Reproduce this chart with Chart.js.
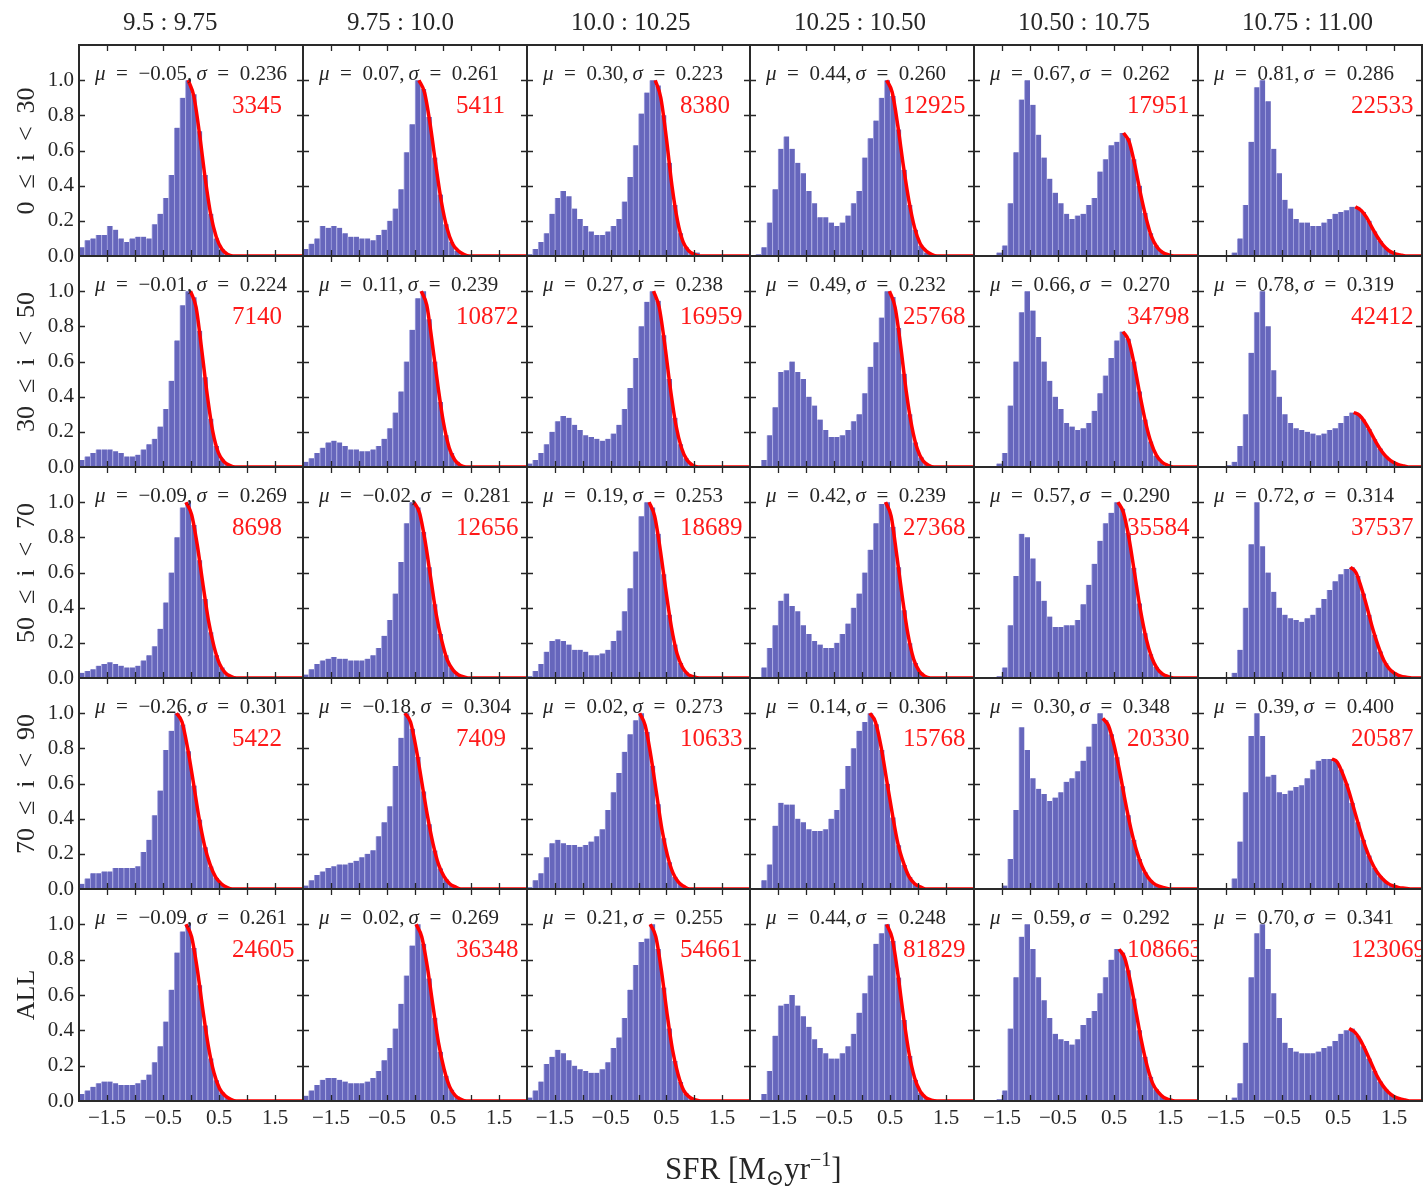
<!DOCTYPE html>
<html>
<head>
<meta charset="utf-8">
<script src="https://cdn.jsdelivr.net/npm/chart.js@4.4.1/dist/chart.umd.min.js"></script>
<style>
  html, body { margin: 0; padding: 0; background: #fff; }
  #fig { position: relative; width: 1424px; height: 1194px; overflow: hidden;
         font-family: 'Liberation Serif', 'DejaVu Serif', serif; color: #262626; }
  #fig canvas { position: absolute; }
  .coltitle { position: absolute; top: 9px; font-size: 25px; line-height: 1; white-space: nowrap; }
  .rowlabel { position: absolute; left: 26px; font-size: 26px; line-height: 1; white-space: nowrap;
              transform: translate(-50%, -50%) rotate(-90deg); }
  .xlabel { position: absolute; left: 665px; top: 1149px; font-size: 31px; line-height: 1; white-space: nowrap; }
  .xlabel sub { font-size: 22px; vertical-align: -6px; }
  .xlabel sup { font-size: 20px; vertical-align: 13px; }
</style>
</head>
<body>
<div id="fig"></div>
<script>
// 5 x 6 grid of normalised SFR histograms (rows: inclination, cols: stellar mass)

const SERIF = "'Liberation Serif', 'DejaVu Serif', serif";

const massBins = ['9.5 : 9.75', '9.75 : 10.0', '10.0 : 10.25', '10.25 : 10.50', '10.50 : 10.75', '10.75 : 11.00'];
const inclBins = ['0\u2002\u2264\u2002i\u2002<\u200230', '30\u2002\u2264\u2002i\u2002<\u200250',
                  '50\u2002\u2264\u2002i\u2002<\u200270', '70\u2002\u2264\u2002i\u2002<\u200290', 'ALL'];

const binCenters = [-1.95, -1.85, -1.75, -1.65, -1.55, -1.45, -1.35, -1.25, -1.15, -1.05,
                    -0.95, -0.85, -0.75, -0.65, -0.55, -0.45, -0.35, -0.25, -0.15, -0.05,
                     0.05,  0.15,  0.25,  0.35,  0.45,  0.55,  0.65,  0.75,  0.85,  0.95,
                     1.05,  1.15,  1.25,  1.35,  1.45,  1.55,  1.65,  1.75,  1.85,  1.95];

const xTickMarks = [-1.5, -1, -0.5, 0, 0.5, 1, 1.5];
const xTickLabels = [-1.5, -0.5, 0.5, 1.5];
const yTickMarks = [0.2, 0.4, 0.6, 0.8, 1.0];

// histogram heights (peak-normalised), one array of 40 bins per mass column
const histIncl0to30 = [
  [.05,.09,.10,.12,.12,.17,.15,.10,.08,.10, .11,.11,.10,.18,.24,.33,.46,.73,.90,1.00, .92,.71,.46,.24,.10,.04,.01,.005,0,0, 0,0,0,0,0,0,0,0,0,0],
  [.04,.07,.10,.17,.16,.17,.16,.13,.11,.11, .10,.10,.09,.12,.15,.20,.27,.38,.59,.75, 1.00,.95,.79,.56,.35,.18,.08,.03,.01,.005, 0,0,0,0,0,0,0,0,0,0],
  [.01,.04,.08,.13,.24,.33,.37,.34,.27,.21, .17,.14,.12,.12,.14,.17,.21,.31,.45,.63, .81,.93,1.00,.97,.80,.53,.29,.13,.05,.015, .02,0,0,0,0,0,0,0,0,0],
  [0,.01,.05,.19,.38,.61,.68,.61,.53,.47, .37,.30,.22,.22,.19,.17,.19,.23,.30,.37, .56,.67,.77,.90,1.00,.91,.72,.49,.29,.15, .06,.02,.01,0,0,0,0,0,0,0],
  [0,0,0,.005,.02,.06,.30,.59,.89,1.00, .86,.69,.56,.44,.36,.30,.24,.21,.23,.24, .29,.33,.48,.55,.63,.65,.70,.67,.55,.40, .245,.13,.06,.024,.008,0,0,0,0,0],
  [0,0,0,0,0,.005,.02,.10,.29,.65, .96,1.00,.88,.61,.47,.32,.27,.21,.19,.19, .17,.17,.19,.21,.24,.25,.26,.28,.28,.25, .20,.14,.086,.047,.023,.01,.004,0,0,0],
];
const histIncl30to50 = [
  [.04,.06,.08,.10,.10,.10,.09,.08,.06,.06, .07,.10,.13,.16,.23,.33,.49,.72,.92,1.00, .965,.775,.51,.275,.12,.044,.013,.003,0,0, 0,0,0,0,0,0,0,0,0,0],
  [.03,.05,.08,.11,.14,.15,.14,.12,.10,.10, .09,.09,.10,.12,.16,.22,.31,.43,.60,.78, .96,1.00,.84,.60,.37,.18,.08,.03,.008,.002, 0,0,0,0,0,0,0,0,0,0],
  [.02,.04,.08,.13,.20,.26,.29,.28,.24,.21, .18,.17,.16,.15,.16,.19,.24,.33,.45,.62, .80,.94,1.00,.945,.75,.50,.28,.13,.05,.017, .005,0,0,0,0,0,0,0,0,0],
  [0,.005,.04,.18,.34,.54,.55,.60,.54,.50, .40,.35,.27,.21,.17,.17,.18,.21,.26,.30, .42,.57,.71,.85,1.00,.967,.79,.53,.30,.14, .055,.0175,.005,0,0,0,0,0,0,0],
  [0,0,0,0,.02,.08,.35,.60,.88,1.00, .89,.74,.60,.49,.40,.33,.25,.23,.21,.22, .25,.32,.42,.52,.62,.72,.77,.73,.60,.43, .27,.145,.065,.029,.011,.004,0,0,0,0],
  [0,0,0,0,0,.01,.03,.12,.30,.65, .88,1.00,.80,.55,.40,.30,.25,.22,.21,.20, .19,.18,.19,.21,.22,.25,.29,.31,.30,.27, .216,.158,.105,.063,.034,.017,.007,.003,0,0],
];
const histIncl50to70 = [
  [.03,.04,.05,.07,.08,.09,.08,.07,.06,.06, .07,.10,.13,.18,.28,.43,.60,.80,.97,1.00, .87,.67,.45,.26,.13,.06,.023,.008,.002,0, 0,0,0,0,0,0,0,0,0,0],
  [.02,.05,.08,.10,.11,.12,.11,.11,.10,.10, .10,.11,.13,.17,.24,.33,.48,.66,.88,1.00, .97,.83,.63,.42,.25,.13,.058,.023,.008,.002, 0,0,0,0,0,0,0,0,0,0],
  [.01,.04,.08,.15,.21,.22,.21,.19,.16,.16, .15,.13,.13,.14,.16,.21,.27,.38,.51,.72, .92,1.00,.97,.82,.59,.36,.19,.086,.033,.011, .003,0,0,0,0,0,0,0,0,0],
  [0,.005,.06,.17,.30,.44,.48,.41,.38,.30, .25,.21,.19,.17,.17,.20,.25,.31,.40,.48, .60,.73,.88,.99,1.00,.86,.63,.385,.198,.086, .031,.0095,.0024,0,0,0,0,0,0,0],
  [0,0,0,0,.01,.06,.30,.58,.82,.80, .68,.55,.44,.35,.29,.29,.30,.30,.33,.42, .53,.65,.78,.88,.94,1.00,.963,.825,.627,.424, .254,.135,.064,.027,.01,.003,0,0,0,0],
  [0,0,0,0,0,.005,.03,.16,.40,.76, 1.00,.75,.60,.49,.40,.36,.34,.33,.32,.34, .36,.40,.45,.50,.55,.59,.62,.63,.58,.48, .36,.246,.151,.084,.042,.019,.008,.003,0,0],
];
const histIncl70to90 = [
  [.03,.06,.09,.09,.10,.10,.12,.12,.12,.12, .13,.21,.28,.42,.56,.79,.90,1.00,.935,.784, .588,.395,.238,.128,.062,.027,.010,.0035,0,0, 0,0,0,0,0,0,0,0,0,0],
  [.02,.05,.08,.10,.12,.13,.14,.14,.15,.16, .18,.20,.22,.30,.38,.47,.70,.86,1.00,.912, .751,.555,.368,.219,.117,.056,.024,.0093,.003,0, 0,0,0,0,0,0,0,0,0,0],
  [.01,.05,.09,.18,.26,.28,.26,.25,.25,.24, .25,.27,.30,.34,.45,.55,.66,.78,.88,.96, 1.00,.893,.701,.482,.289,.152,.069,.028,.0098,.003, 0,0,0,0,0,0,0,0,0,0],
  [0,.005,.05,.14,.36,.49,.48,.48,.40,.38, .34,.33,.33,.34,.40,.45,.57,.70,.80,.90, .95,1.00,.937,.79,.598,.407,.249,.137,.068,.030, .012,.0043,0,0,0,0,0,0,0,0],
  [0,0,0,0,0,.02,.17,.45,.92,.79, .63,.57,.54,.50,.52,.55,.61,.63,.67,.73, .81,.94,1.00,.96,.88,.75,.585,.42,.28,.17, .095,.049,.024,.01,.004,0,0,0,0,0],
  [0,0,0,0,0,0,.06,.27,.55,.87, 1.00,.87,.64,.65,.55,.54,.56,.58,.59,.63, .68,.73,.74,.74,.73,.68,.60,.49,.38,.28, .19,.12,.073,.042,.022,.011,.005,.002,0,0],
];
const histAll = [
  [.04,.06,.08,.10,.11,.11,.10,.09,.09,.09, .10,.12,.15,.22,.31,.45,.63,.84,.96,1.00, .866,.655,.428,.241,.118,.049,.018,.0056,.0015,0, 0,0,0,0,0,0,0,0,0,0],
  [.03,.06,.09,.12,.13,.13,.12,.11,.10,.10, .10,.11,.13,.17,.23,.30,.41,.55,.71,.88, 1.00,.89,.694,.471,.279,.143,.064,.025,.0086,.0025, 0,0,0,0,0,0,0,0,0,0],
  [.02,.06,.11,.21,.25,.29,.27,.23,.20,.18, .17,.16,.16,.18,.22,.30,.36,.47,.63,.77, .90,.92,1.00,.86,.642,.411,.226,.107,.043,.015, .0044,0,0,0,0,0,0,0,0,0],
  [0,.005,.04,.17,.37,.54,.55,.60,.54,.48, .42,.35,.30,.27,.24,.24,.27,.31,.38,.50, .61,.71,.89,.95,1.00,.906,.699,.458,.255,.12, .048,.0165,.005,0,0,0,0,0,0,0],
  [0,0,0,0,.01,.06,.41,.70,.93,1.00, .86,.70,.57,.47,.38,.35,.34,.32,.35,.43, .47,.51,.61,.70,.80,.86,.84,.74,.58,.40, .25,.137,.067,.029,.011,.004,0,0,0,0],
  [0,0,0,0,0,.005,.02,.10,.33,.70, .95,1.00,.86,.61,.47,.33,.30,.28,.27,.27, .27,.28,.30,.31,.34,.38,.40,.41,.37,.31, .24,.17,.11,.066,.036,.018,.009,.004,0,0],
];

// red fit curve: heights read every FIT_STEP in SFR, starting at mu
const FIT_STEP = 0.1;
const fitIncl0to30 = [
  [1,.91,.70,.45,.24,.11,.04,.01,0],
  [1,.93,.75,.52,.31,.16,.07,.03,.01,0],
  [1,.90,.67,.40,.20,.08,.03,.01,0],
  [1,.93,.74,.51,.31,.16,.07,.03,.01,0],
  [.70,.65,.52,.36,.22,.11,.05,.02,.007,0],
  [.28,.26,.22,.16,.105,.06,.03,.014,.006,0],
];
const fitIncl30to50 = [
  [1,.91,.67,.41,.20,.08,.03,.01,0],
  [1,.92,.70,.46,.25,.11,.04,.01,0],
  [1,.91,.70,.45,.24,.11,.04,.01,0],
  [1,.91,.69,.43,.23,.10,.035,.01,0],
  [.77,.72,.585,.415,.26,.14,.065,.027,.01,0],
  [.31,.295,.255,.20,.14,.09,.053,.028,.013,.006,0],
];
const fitIncl50to70 = [
  [1,.93,.76,.54,.33,.18,.08,.03,.01,0],
  [1,.94,.78,.57,.36,.21,.10,.045,.017,.006,0],
  [1,.92,.73,.50,.29,.14,.06,.02,.007,0],
  [1,.92,.70,.46,.25,.11,.04,.01,0],
  [1,.94,.79,.59,.39,.23,.12,.054,.022,.008,0],
  [.63,.60,.51,.40,.28,.18,.10,.05,.025,.01,.004,0],
];
const fitIncl70to90 = [
  [1,.95,.80,.61,.41,.25,.14,.067,.03,.01,0],
  [1,.95,.80,.61,.42,.26,.14,.07,.03,.012,0],
  [1,.93,.76,.55,.34,.19,.09,.037,.014,0],
  [1,.95,.81,.62,.43,.26,.15,.07,.03,.013,0],
  [.97,.93,.82,.67,.50,.345,.22,.13,.07,.034,.016,.007,0],
  [.74,.72,.65,.56,.45,.34,.24,.16,.10,.06,.032,.017,.008,.004,0],
];
const fitAll = [
  [1,.93,.75,.52,.31,.16,.07,.03,.01,0],
  [1,.93,.76,.54,.33,.18,.08,.03,.01,0],
  [1,.93,.74,.50,.29,.15,.06,.023,.007,0],
  [1,.92,.72,.48,.27,.13,.054,.019,.005,0],
  [.86,.81,.68,.51,.34,.20,.10,.05,.02,.0075,0],
  [.41,.39,.345,.28,.21,.14,.087,.05,.026,.013,.006,0],
];

const fitMu = [
  [-0.05, 0.07, 0.30, 0.44, 0.67, 0.81],
  [-0.01, 0.11, 0.27, 0.49, 0.66, 0.78],
  [-0.09, -0.02, 0.19, 0.42, 0.57, 0.72],
  [-0.26, -0.18, 0.02, 0.14, 0.30, 0.39],
  [-0.09, 0.02, 0.21, 0.44, 0.59, 0.70],
];
const fitSigma = [
  [0.236, 0.261, 0.223, 0.260, 0.262, 0.286],
  [0.224, 0.239, 0.238, 0.232, 0.270, 0.319],
  [0.269, 0.281, 0.253, 0.239, 0.290, 0.314],
  [0.301, 0.304, 0.273, 0.306, 0.348, 0.400],
  [0.261, 0.269, 0.255, 0.248, 0.292, 0.341],
];
const galaxyCounts = [
  [3345, 5411, 8380, 12925, 17951, 22533],
  [7140, 10872, 16959, 25768, 34798, 42412],
  [8698, 12656, 18689, 27368, 35584, 37537],
  [5422, 7409, 10633, 15768, 20330, 20587],
  [24605, 36348, 54661, 81829, 108663, 123069],
];

const histRows = [histIncl0to30, histIncl30to50, histIncl50to70, histIncl70to90, histAll];
const fitRows = [fitIncl0to30, fitIncl30to50, fitIncl50to70, fitIncl70to90, fitAll];

// --- layout ---
const GRID_LEFT = 79, GRID_TOP = 45, PANEL_W = 223.8, PANEL_H = 211.1;
const Y_LABEL_W = 60, X_LABEL_H = 40, EDGE = 16;
const ROWS = 5, COLS = 6;

const fig = document.getElementById('fig');

const minus = v => (v < 0 ? '\u2212' : '') + Math.abs(v);
const fmtSigned = (v, d) => (v < 0 ? '\u2212' : '') + Math.abs(v).toFixed(d);

// frame + inward ticks on all four sides
const panelFrame = {
    id: 'panelFrame',
    afterDraw(chart) {
        const { ctx, chartArea: a, scales: { x, y } } = chart;
        ctx.save();
        ctx.strokeStyle = '#262626';
        ctx.lineWidth = 1.3;
        ctx.beginPath();
        xTickMarks.forEach(v => {
            const px = Math.round(x.getPixelForValue(v)) + 0.5;
            ctx.moveTo(px, a.bottom); ctx.lineTo(px, a.bottom - 6);
            ctx.moveTo(px, a.top); ctx.lineTo(px, a.top + 6);
        });
        yTickMarks.forEach(v => {
            const py = Math.round(y.getPixelForValue(v)) + 0.5;
            ctx.moveTo(a.left, py); ctx.lineTo(a.left + 6, py);
            ctx.moveTo(a.right, py); ctx.lineTo(a.right - 6, py);
        });
        ctx.stroke();
        ctx.lineWidth = 2;
        ctx.strokeStyle = '#2a2a2a';
        ctx.strokeRect(a.left, a.top, a.right - a.left, a.bottom - a.top);
        ctx.restore();
    }
};

// mu / sigma line and galaxy count inside each panel
const panelText = {
    id: 'panelText',
    afterDatasetsDraw(chart, args, opts) {
        const { ctx, chartArea: a } = chart;
        ctx.save();
        ctx.beginPath();
        ctx.rect(a.left, a.top, a.right - a.left, a.bottom - a.top);
        ctx.clip();
        ctx.textBaseline = 'middle';
        ctx.fillStyle = '#262626';
        const parts = [
            ['\u03bc', true], ['\u2002=\u2002', false], [fmtSigned(opts.mu, 2), false], [',\u2009', false],
            ['\u03c3', true], ['\u2002=\u2002', false], [opts.sigma.toFixed(3), false],
        ];
        let tx = a.left + 16;
        const ty = a.top + 29;
        parts.forEach(([s, italic]) => {
            ctx.font = (italic ? 'italic ' : '') + '21px ' + SERIF;
            ctx.fillText(s, tx, ty);
            tx += ctx.measureText(s).width;
        });
        ctx.fillStyle = '#ff1a1a';
        ctx.font = '25px ' + SERIF;
        ctx.fillText(String(opts.n), a.left + 153, a.top + 61);
        ctx.restore();
    }
};

function renderPanel(r, c) {
    const x0 = Math.round(GRID_LEFT + c * PANEL_W), x1 = Math.round(GRID_LEFT + (c + 1) * PANEL_W);
    const y0 = Math.round(GRID_TOP + r * PANEL_H), y1 = Math.round(GRID_TOP + (r + 1) * PANEL_H);
    const padL = c === 0 ? Y_LABEL_W : 0;
    const padB = r === ROWS - 1 ? X_LABEL_H : 0;

    const canvas = document.createElement('canvas');
    canvas.width = x1 - x0 + padL + 2 * EDGE;
    canvas.height = y1 - y0 + padB + 2 * EDGE;
    canvas.style.left = (x0 - padL - EDGE) + 'px';
    canvas.style.top = (y0 - EDGE) + 'px';
    fig.appendChild(canvas);

    const hist = histRows[r][c];
    const mu = fitMu[r][c];
    const fitPts = fitRows[r][c].map((v, k) => ({ x: mu + k * FIT_STEP, y: v }));
    fitPts.push({ x: 2.0, y: 0 });

    new Chart(canvas, {
        type: 'bar',
        data: {
            datasets: [
                {
                    type: 'line',
                    data: fitPts,
                    borderColor: '#ff0000',
                    borderWidth: 3.5,
                    pointRadius: 0,
                    cubicInterpolationMode: 'monotone',
                    order: 0,
                },
                {
                    type: 'bar',
                    data: hist.map((v, i) => ({ x: binCenters[i], y: v })),
                    backgroundColor: 'rgb(102,102,188)',
                    borderColor: 'rgb(168,168,226)',
                    borderWidth: { left: 1, right: 0, top: 0, bottom: 0 },
                    borderSkipped: false,
                    barPercentage: 1,
                    categoryPercentage: 1,
                    order: 1,
                },
            ],
        },
        options: {
            responsive: false,
            animation: false,
            devicePixelRatio: 1,
            events: [],
            layout: { padding: EDGE },
            plugins: {
                legend: { display: false },
                tooltip: { enabled: false },
                panelText: { mu, sigma: fitSigma[r][c], n: galaxyCounts[r][c] },
            },
            scales: {
                x: {
                    type: 'linear',
                    min: -2, max: 2,
                    offset: false,
                    grid: { display: false, drawTicks: false },
                    border: { display: false },
                    ticks: {
                        display: r === ROWS - 1,
                        stepSize: 0.5,
                        autoSkip: false,
                        maxRotation: 0,
                        padding: 5,
                        color: '#262626',
                        font: { family: SERIF, size: 21 },
                        callback: v => xTickLabels.includes(v) ? minus(v) : '',
                    },
                    afterFit: s => { s.height = padB; s.paddingLeft = 0; s.paddingRight = 0; },
                },
                y: {
                    min: 0, max: 1.2,
                    grid: { display: false, drawTicks: false },
                    border: { display: false },
                    ticks: {
                        display: c === 0,
                        stepSize: 0.2,
                        autoSkip: false,
                        padding: 5,
                        color: '#262626',
                        font: { family: SERIF, size: 21 },
                        callback: v => v > 1.05 ? '' : v.toFixed(1),
                    },
                    afterFit: s => { s.width = padL; s.paddingTop = 0; s.paddingBottom = 0; },
                },
            },
        },
        plugins: [panelText, panelFrame],
    });
}

for (let r = 0; r < ROWS; r++) {
    for (let c = 0; c < COLS; c++) renderPanel(r, c);
}

// column titles (stellar mass bins)
massBins.forEach((t, c) => {
    const d = document.createElement('div');
    d.className = 'coltitle';
    d.textContent = t;
    d.style.left = Math.round(GRID_LEFT + c * PANEL_W + 44) + 'px';
    fig.appendChild(d);
});

// row labels (inclination bins)
inclBins.forEach((t, r) => {
    const d = document.createElement('div');
    d.className = 'rowlabel';
    d.textContent = t;
    d.style.top = Math.round(GRID_TOP + (r + 0.5) * PANEL_H) + 'px';
    fig.appendChild(d);
});

const xl = document.createElement('div');
xl.className = 'xlabel';
xl.innerHTML = 'SFR [M<sub>\u2299</sub>yr<sup>\u22121</sup>]';
fig.appendChild(xl);
</script>
</body>
</html>
